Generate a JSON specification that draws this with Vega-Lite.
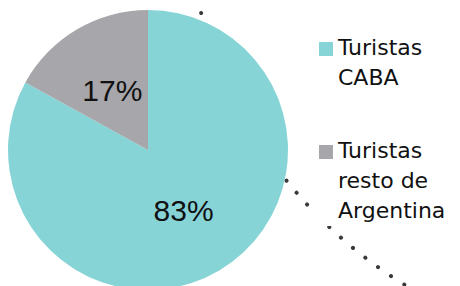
{
  "$schema": "https://vega.github.io/schema/vega-lite/v6.json",
  "width": 296,
  "height": 300,
  "padding": {"left": 0, "top": 0, "right": 164, "bottom": 0},
  "autosize": {"type": "none"},
  "background": "white",
  "config": {"view": {"stroke": null}},
  "datasets": {
    "shares": [
      {"cat": "Turistas CABA", "pct": 0.83, "ord": 1},
      {"cat": "Turistas resto de Argentina", "pct": 0.17, "ord": 2}
    ],
    "ring": [
      {"cx": 646, "cy": -108}
    ]
  },
  "layer": [
    {
      "data": {"name": "ring"},
      "mark": {"type": "point", "shape": "circle", "filled": false, "size": 850084, "stroke": "#3a3a3a", "strokeWidth": 4, "strokeDash": [0.1, 15.68], "strokeCap": "round", "opacity": 1},
      "encoding": {
        "x": {"field": "cx", "type": "quantitative", "scale": {"domain": [0, 296], "nice": false, "zero": false}, "axis": null},
        "y": {"field": "cy", "type": "quantitative", "scale": {"domain": [0, 300], "nice": false, "zero": false, "reverse": true}, "axis": null}
      }
    },
    {
      "data": {"name": "shares"},
      "mark": {"type": "arc", "outerRadius": 140},
      "encoding": {
        "theta": {"field": "pct", "type": "quantitative", "stack": true},
        "order": {"field": "ord", "type": "quantitative"},
        "color": {
          "field": "cat",
          "type": "nominal",
          "scale": {"domain": ["Turistas CABA", "Turistas resto de Argentina"], "range": ["#87D4D7", "#A7A7AB"]},
          "legend": {
            "title": null,
            "orient": "none",
            "legendX": 311,
            "legendY": 34,
            "padding": 4,
            "fillColor": "white",
            "symbolType": "square",
            "symbolSize": 196,
            "symbolStrokeWidth": 0,
            "labelFont": "DejaVu Sans",
            "labelFontSize": 22,
            "labelColor": "#111111",
            "labelLimit": 0,
            "labelOffset": 1,
            "labelBaseline": "top",
            "rowPadding": 51,
            "labelExpr": "datum.label == 'Turistas CABA' ? ['Turistas', 'CABA'] : ['Turistas', 'resto de', 'Argentina']",
            "encode": {
              "labels": {"update": {"lineHeight": {"value": 30}, "dy": {"value": -11}}},
              "legend": {"update": {"height": {"value": 200}}}
            }
          }
        }
      }
    },
    {
      "data": {"name": "shares"},
      "mark": {"type": "text", "radius": 70, "font": "Liberation Sans", "fontSize": 30, "color": "#111111", "baseline": "middle", "align": "center", "dy": 2},
      "encoding": {
        "theta": {"field": "pct", "type": "quantitative", "stack": true},
        "order": {"field": "ord", "type": "quantitative"},
        "detail": {"field": "cat", "type": "nominal"},
        "text": {"field": "pct", "type": "quantitative", "format": ".0%"}
      }
    }
  ]
}
